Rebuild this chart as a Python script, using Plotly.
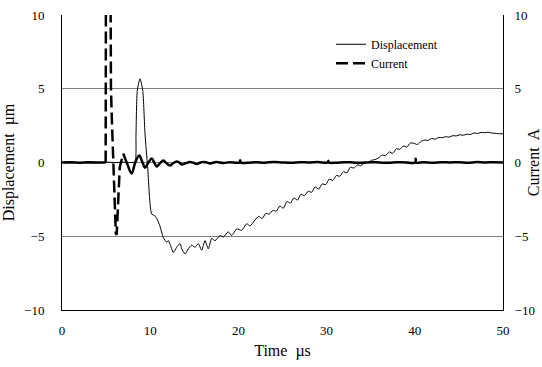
import plotly.graph_objects as go

# ---- Displacement (µm) ----
disp_t = [0, 1, 2, 3, 4, 5, 6, 7, 7.8, 8.28, 8.39, 8.54, 8.84, 9.15, 9.41, 9.71,
          10.17, 10.5, 10.74, 11.1, 11.49, 11.87, 12.05, 12.44, 12.62, 13.0, 13.38,
          13.57, 13.95, 14.32, 14.71, 15.08, 15.45, 15.84, 16.21, 16.59, 16.97, 17.35,
          17.91, 18.29, 18.85, 19.24, 19.81, 20.37, 20.94, 21.32, 21.88,
          22.3, 22.7, 23.1, 23.5, 23.9, 24.3, 24.7, 25.1, 25.5, 25.9, 26.3, 26.7,
          27.1, 27.5, 27.9, 28.3, 28.7, 29.1, 29.5, 29.9, 30.3, 30.7, 31.1, 31.5,
          31.9, 32.3, 32.7, 33.1, 33.5, 33.9, 34.3, 34.7, 35.1, 35.5, 35.9, 36.3,
          36.7, 37.1, 37.5, 37.9, 38.3, 38.7, 39.1, 39.5, 39.9, 40.3, 40.7, 41.1,
          41.5, 41.9, 42.3, 42.7, 43.1, 43.5, 43.9, 44.3, 44.7, 45.1, 45.5, 45.9,
          46.3, 46.7, 47.1, 47.5, 47.9, 48.3, 48.7, 49.1, 49.5, 50]
disp_um = [0, 0.03, -0.03, 0.02, -0.02, 0.02, 0, 0.02, 0, 0.05, 1.95, 4.9, 5.67, 4.9, 1.95, -0.3,
           -3.5, -3.6, -3.8, -4.3, -5.1, -5.4, -5.3, -5.85, -6.1, -5.75, -5.5,
           -5.85, -6.2, -5.85, -5.6, -5.75, -5.5, -5.95, -5.3, -5.85, -5.15, -5.3,
           -4.95, -5.05, -4.7, -4.95, -4.5, -4.6, -4.15, -4.3, -3.9,
           -3.65, -3.8, -3.45, -3.5, -3.25, -3.3, -2.95, -3.1, -2.65, -2.75, -2.4, -2.55,
           -2.15, -2.25, -1.95, -2.02, -1.65, -1.8, -1.45, -1.5, -1.12, -1.22, -0.88, -0.93,
           -0.62, -0.7, -0.32, -0.38, -0.16, -0.22, 0.03, -0.02, 0.15, 0.2, 0.32, 0.5,
           0.47, 0.72, 0.62, 0.93, 0.9, 1.12, 1.05, 1.32, 1.3, 1.22, 1.43, 1.52,
           1.5, 1.63, 1.58, 1.7, 1.68, 1.75, 1.72, 1.82, 1.8, 1.88, 1.85, 1.92,
           1.9, 2.0, 1.97, 2.04, 2.02, 2.05, 2.0, 1.98, 1.95, 1.95]

# ---- Current (A) ----
cur_t = [0, 1, 2, 3, 4, 4.95,
         5.0, 5.45, 5.55, 5.65, 5.95, 6.1, 6.2, 6.35, 6.55, 6.95,
         7.4, 7.9, 8.3, 8.76, 9.1, 9.41, 9.8, 10.17, 10.45, 10.74, 11.1, 11.49,
         11.85, 12.24, 12.6, 13.0, 13.3, 13.57, 14.0, 14.51, 14.9, 15.27, 15.7,
         16.0, 16.4, 16.8, 17.5, 18.3, 19.0, 19.8, 20.15, 20.2, 20.25, 21, 22, 23,
         24, 25, 26, 27, 28, 29, 30.15, 30.2, 30.25, 31, 32, 33, 34, 35, 36, 37, 38,
         39, 40.05, 40.1, 40.15, 41, 42, 43, 44, 45, 46, 47, 48, 49, 50]
cur_a = [0, 0.02, -0.02, 0.02, 0, 0,
         20, 20, 5, 3.0, -2.6, -4.8, -4.9, -2.4, -0.3, 0.6,
         -0.1, -0.75, 0.0, 0.47, 0.05, -0.35, 0.0, 0.27, 0.0, -0.27, -0.05, 0.13,
         -0.05, -0.2, -0.05, 0.07, 0.0, -0.13, -0.05, 0.03, -0.02, -0.1, 0.0,
         0.04, 0.0, -0.06, 0.03, -0.04, 0.02, -0.02, 0.0, 0.15, 0.0, -0.02, 0.02, -0.01,
         0.03, 0.0, -0.02, 0.02, 0.0, 0.03, 0.0, 0.12, 0.0, -0.02, 0.02, 0.0, -0.02, 0.02, 0.0, -0.02, 0.02,
         0.0, 0.0, 0.25, 0.0, 0.02, -0.02, 0.02, 0.0, 0.02, -0.02, 0.03, 0.0, 0.02, 0.0]
spike_start, spike_end = 5, 15   # indices bounding the steep (dashed-looking) part

y_ticks = [-10, -5, 0, 5, 10]
x_ticks = [0, 10, 20, 30, 40, 50]

FONT = "Liberation Serif, Times New Roman, serif"
TICKFONT = dict(family=FONT, size=13, color="black")
TITLEFONT = dict(family=FONT, size=16, color="black")

fig = go.Figure()
fig.add_trace(go.Scatter(x=disp_t, y=disp_um, mode="lines", name="Displacement",
                         line=dict(color="black", width=1, shape="spline", smoothing=0.6)))
# current: dense parts render solid, the long steep segments render dashed
fig.add_trace(go.Scatter(x=cur_t[:spike_start + 1], y=cur_a[:spike_start + 1], mode="lines",
                         showlegend=False, yaxis="y2", line=dict(color="black", width=2.5)))
fig.add_trace(go.Scatter(x=cur_t[spike_start:spike_end + 1], y=cur_a[spike_start:spike_end + 1],
                         mode="lines", name="Current", yaxis="y2",
                         line=dict(color="black", width=2.5, dash="12px,5px")))
fig.add_trace(go.Scatter(x=cur_t[spike_end:], y=cur_a[spike_end:], mode="lines",
                         showlegend=False, yaxis="y2",
                         line=dict(color="black", width=2.5, shape="spline", smoothing=1.0)))

fig.update_layout(
    width=542, height=367,
    margin=dict(l=62, r=39, t=15, b=57, autoexpand=False),
    paper_bgcolor="white", plot_bgcolor="white",
    font=dict(family=FONT, size=13, color="black"),
    showlegend=True,
    legend=dict(x=0.61, y=0.95, xanchor="left", yanchor="top",
                bgcolor="rgba(0,0,0,0)", font=dict(family=FONT, size=12, color="black"),
                tracegroupgap=0, itemwidth=30),
    xaxis=dict(range=[0, 50], tickvals=x_ticks, showgrid=False, zeroline=False,
               showline=True, linecolor="black", linewidth=1, ticks="",
               ticklabelstandoff=8, tickfont=TICKFONT, automargin=False,
               title=dict(text="Time  µs", font=TITLEFONT, standoff=8)),
    yaxis=dict(range=[-10, 10], tickvals=y_ticks, showgrid=True, gridcolor="#808080",
               gridwidth=1, zeroline=False, showline=True, linecolor="black", linewidth=1,
               ticks="", ticklabelstandoff=14, tickfont=TICKFONT, automargin=False,
               title=dict(text="Displacement  µm", font=TITLEFONT, standoff=6)),
    yaxis2=dict(range=[-10, 10], tickvals=y_ticks, overlaying="y", side="right",
                showgrid=False, zeroline=False, showline=True, linecolor="black",
                linewidth=1, ticks="", ticklabelstandoff=8, tickfont=TICKFONT,
                automargin=False,
                title=dict(text="Current  A", font=TITLEFONT, standoff=2)),
)

fig.write_html("out.html", config={"displayModeBar": False},
               post_script="document.body.style.margin='0';document.body.style.padding='0';")
